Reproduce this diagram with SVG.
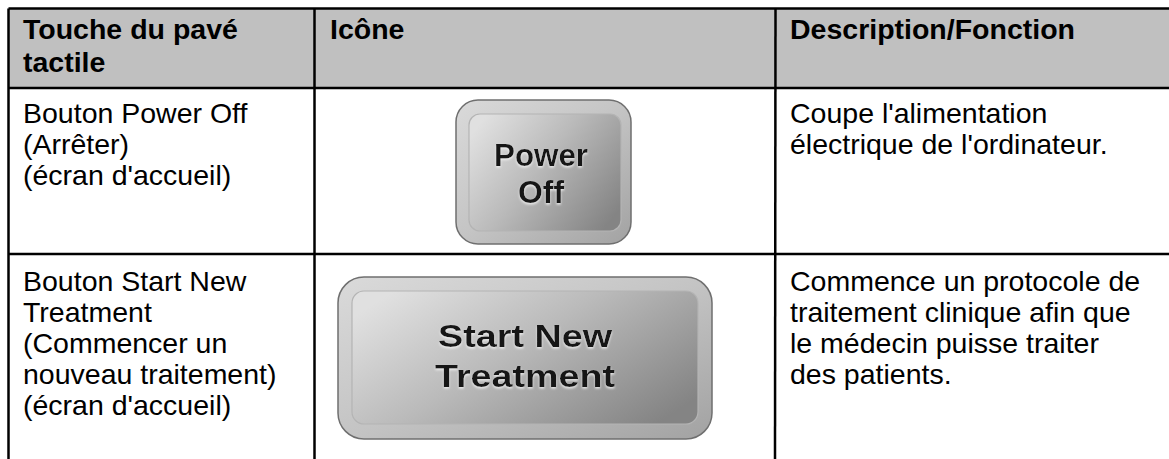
<svg xmlns="http://www.w3.org/2000/svg" width="1169" height="459" viewBox="0 0 1169 459">
  <style>
    .hdr { font-family: "Liberation Sans", Arial, sans-serif; font-weight: bold; font-size: 28.5px; fill: #000; }
    .body { font-family: "Liberation Sans", Arial, sans-serif; font-size: 28.5px; fill: #000; }
    .btn { font-family: "Liberation Sans", Arial, sans-serif; font-weight: 700; font-size: 32px; fill: #141414; text-anchor: middle; filter: url(#glow); }
    .grid { stroke: #000; stroke-width: 2.5; fill: none; }
    .bezel { fill: url(#bezelGrad); stroke: #6f6f6f; stroke-width: 1.5; }
    .face { fill: url(#faceGrad); stroke: #b4b4b4; stroke-width: 1.2; }
  </style>
  <defs>
    <linearGradient id="bezelGrad" x1="0" y1="0" x2="1" y2="1">
      <stop offset="0" stop-color="#dadada"/>
      <stop offset="0.5" stop-color="#c4c4c4"/>
      <stop offset="1" stop-color="#a2a2a2"/>
    </linearGradient>
    <linearGradient id="faceGrad" x1="0" y1="0.2" x2="1" y2="0.8">
      <stop offset="0" stop-color="#e0e0e0"/>
      <stop offset="0.45" stop-color="#bababa"/>
      <stop offset="1" stop-color="#848484"/>
    </linearGradient>
    <filter id="glow" x="-10%" y="-20%" width="120%" height="150%">
      <feDropShadow dx="0" dy="1.5" stdDeviation="1" flood-color="#f2f2f2" flood-opacity="0.9"/>
    </filter>
  </defs>

  <rect width="1169" height="459" fill="#fff"/>

  <g id="table">
    <rect x="8.5" y="8.5" width="1162" height="79.5" fill="#c0c0c0"/>
    <g id="grid-lines">
      <line class="grid" x1="8.5" y1="8.5" x2="1169" y2="8.5"/>
      <line class="grid" x1="8.5" y1="88" x2="1169" y2="88"/>
      <line class="grid" x1="8.5" y1="254" x2="1169" y2="254"/>
      <line class="grid" x1="8.5" y1="8.5" x2="8.5" y2="459"/>
      <line class="grid" x1="314.5" y1="8.5" x2="314.5" y2="459"/>
      <line class="grid" x1="775.5" y1="8.5" x2="775" y2="459"/>
    </g>
  </g>

  <g id="header">
    <text class="hdr" x="23" y="39">Touche du pavé</text>
    <text class="hdr" x="23" y="72">tactile</text>
    <text class="hdr" x="330" y="39">Icône</text>
    <text class="hdr" x="790" y="39">Description/Fonction</text>
  </g>

  <g id="row-power-off">
    <text class="body" x="23" y="123">Bouton Power Off</text>
    <text class="body" x="23" y="154">(Arrêter)</text>
    <text class="body" x="23" y="185">(écran d'accueil)</text>
    <g id="icon-power-off">
      <rect class="bezel" x="456" y="100" width="175" height="144" rx="22"/>
      <rect class="face" x="469" y="114" width="152" height="117" rx="11"/>
      <text class="btn" x="541" y="166" textLength="94" lengthAdjust="spacingAndGlyphs">Power</text>
      <text class="btn" x="541" y="203" textLength="46" lengthAdjust="spacingAndGlyphs">Off</text>
    </g>
    <text class="body" x="790" y="123">Coupe l'alimentation</text>
    <text class="body" x="790" y="154">électrique de l'ordinateur.</text>
  </g>

  <g id="row-start-new-treatment">
    <text class="body" x="23" y="291">Bouton Start New</text>
    <text class="body" x="23" y="322">Treatment</text>
    <text class="body" x="23" y="353">(Commencer un</text>
    <text class="body" x="23" y="384">nouveau traitement)</text>
    <text class="body" x="23" y="415">(écran d'accueil)</text>
    <g id="icon-start-new-treatment">
      <rect class="bezel" x="338" y="277" width="374" height="162" rx="26"/>
      <rect class="face" x="352" y="291" width="346" height="133" rx="12"/>
      <text class="btn" x="525" y="347" textLength="174" lengthAdjust="spacingAndGlyphs">Start New</text>
      <text class="btn" x="525" y="387" textLength="180" lengthAdjust="spacingAndGlyphs">Treatment</text>
    </g>
    <text class="body" x="790" y="291">Commence un protocole de</text>
    <text class="body" x="790" y="322">traitement clinique afin que</text>
    <text class="body" x="790" y="353">le médecin puisse traiter</text>
    <text class="body" x="790" y="384">des patients.</text>
  </g>
</svg>
